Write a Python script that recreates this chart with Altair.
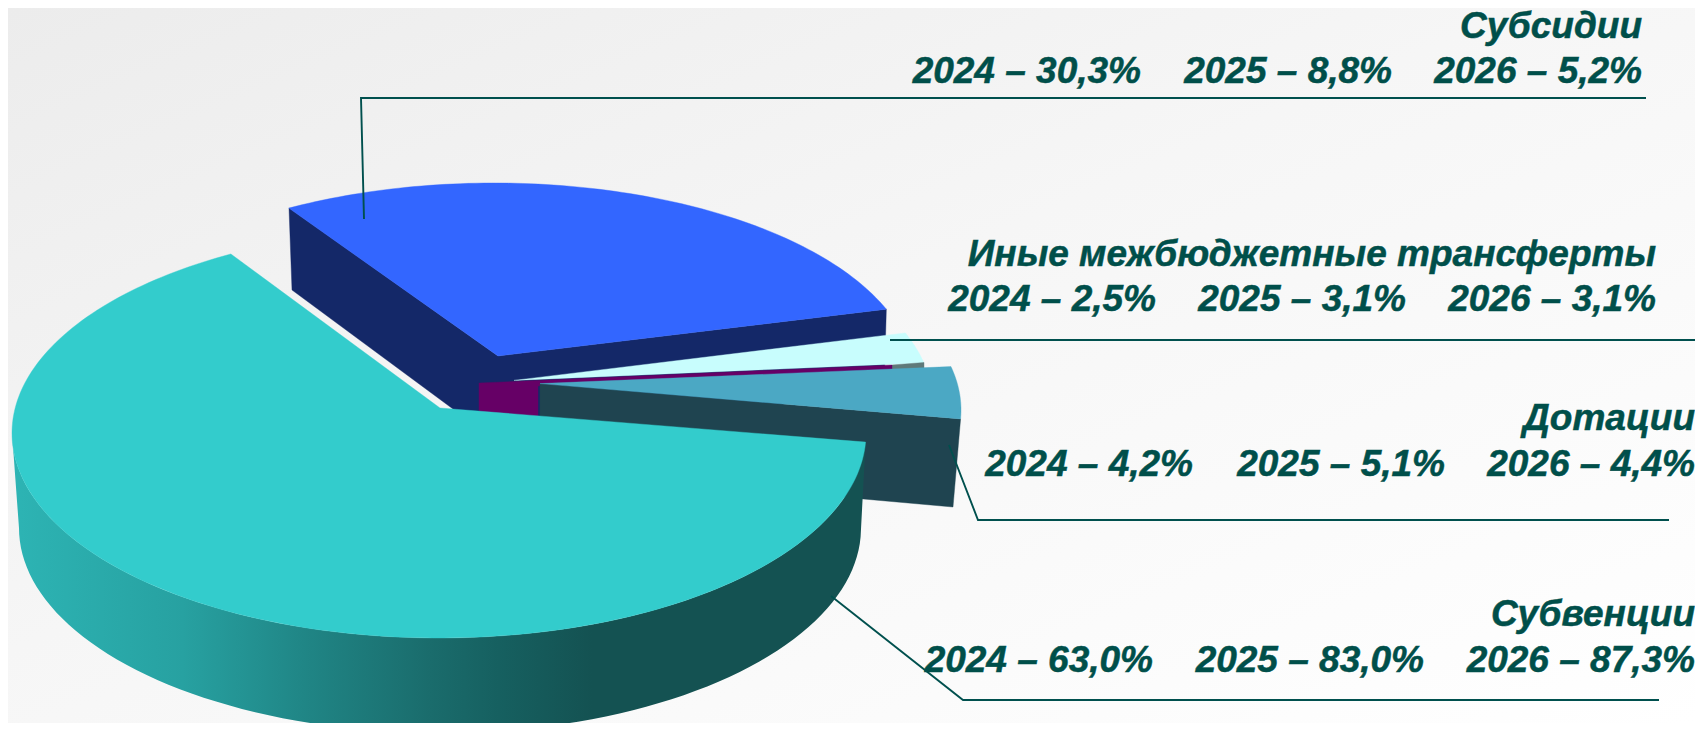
import math
import altair as alt
import pandas as pd

# ---- values ----
slices = ["Субвенции", "Дотации", "Иные межбюджетные трансферты", "Субсидии"]
share_2024 = [63.0, 4.2, 2.5, 30.3]
share_2025 = [83.0, 5.1, 3.1, 8.8]
share_2026 = [87.3, 4.4, 3.1, 5.2]

# label text: title, then one string per year
titles = ["Субвенции", "Дотации", "Иные межбюджетные трансферты", "Субсидии"]
years = ["2024", "2025", "2026"]
shares_txt = {
    "Субвенции": ["63,0%", "83,0%", "87,3%"],
    "Дотации": ["4,2%", "5,1%", "4,4%"],
    "Иные межбюджетные трансферты": ["2,5%", "3,1%", "3,1%"],
    "Субсидии": ["30,3%", "8,8%", "5,2%"],
}

# ---- pie projection ----
START = 123.1     # angle where the 2024 slices begin
E = 0.132         # perspective shift of the pie centre
ELL = {           # ellipse of each exploded slice: cx, cy, a, b
    "Субвенции": (439, 433, 427, 205),
    "Дотации": (540, 410, 421, 200),
    "Иные межбюджетные трансферты": (514, 407.6, 420, 206),
    "Субсидии": (494, 381, 421, 198),
}
TEAL_LOWER = (440, 528, 421, 205)
TEAL_APEX = (440, 408)
SUB_APEX = (498, 356)


def pt(ell, deg):
    cx, cy, a, b = ell
    t = math.radians(deg)
    X, Y = math.cos(t), math.sin(t)
    d = 1 + E * Y
    return cx + a * X * math.sqrt(1 - E * E) / d, cy - b * (Y + E) / d


def arc(ell, d0, d1, n=90):
    return [pt(ell, d0 + (d1 - d0) * i / n) for i in range(n + 1)]


def apex(ell):
    return ell[0], ell[1] - E * ell[3]


angles = {}
cur = START
for name, s in zip(slices, share_2024):
    angles[name] = (cur, cur + s * 3.6)
    cur += s * 3.6

W, H = 1687, 715
xs = alt.Scale(domain=[8, 8 + W], range=[0, W], nice=False, zero=False)
ys = alt.Scale(domain=[8, 8 + H], range=[0, H], nice=False, zero=False)


def poly(points, fill):
    pts = list(points) + [points[0]]
    df = pd.DataFrame({"x": [p[0] for p in pts], "y": [p[1] for p in pts], "i": range(len(pts))})
    stroke = fill if isinstance(fill, str) else None
    kw = {"stroke": stroke, "strokeWidth": 0.4} if stroke else {"strokeWidth": 0}
    return alt.Chart(df).mark_line(fill=fill, clip=True, **kw).encode(
        x=alt.X("x:Q", scale=xs, axis=None),
        y=alt.Y("y:Q", scale=ys, axis=None),
        order=alt.Order("i:Q"),
    )


def line(points, width=1.9):
    df = pd.DataFrame({"x": [p[0] for p in points], "y": [p[1] for p in points], "i": range(len(points))})
    return alt.Chart(df).mark_line(color="#00504e", strokeWidth=width, clip=True).encode(
        x=alt.X("x:Q", scale=xs, axis=None),
        y=alt.Y("y:Q", scale=ys, axis=None),
        order=alt.Order("i:Q"),
    )


TEAL, DOT, INY, SUB = slices
layers = []

# background
bg_df = pd.DataFrame({"x": [8], "x2": [8 + W], "y": [8], "y2": [8 + H]})
layers.append(
    alt.Chart(bg_df).mark_rect(
        fill=alt.Gradient(
            gradient="linear", x1=0, y1=0, x2=1, y2=1,
            stops=[alt.GradientStop(color="#ececec", offset=0),
                   alt.GradientStop(color="#f6f6f6", offset=0.45),
                   alt.GradientStop(color="#ffffff", offset=1)],
        )
    ).encode(
        x=alt.X("x:Q", scale=xs, axis=None), x2="x2:Q",
        y=alt.Y("y:Q", scale=ys, axis=None), y2="y2:Q",
    )
)

# Субсидии
e = ELL[SUB]
a0, a1 = angles[SUB]
layers.append(poly([(289, 208), (292, 290), (453, 409), (498, 438), (884, 392), pt(e, a0), SUB_APEX], "#142868"))
layers.append(poly([SUB_APEX] + arc(e, a0, a1), "#3366ff"))

# Иные
e = ELL[INY]
a0, a1 = angles[INY]
layers.append(poly([apex(e)] + arc(e, a0, a1), "#c8fdfd"))
layers.append(poly([(892, 365), (924, 362.5), (924, 368), (892, 370)], "#5f7a7a"))
layers.append(poly([(479, 383), (892, 365), (892, 370), (538, 386), (538, 420), (479, 416)], "#660066"))

# Дотации
e = ELL[DOT]
a0, a1 = angles[DOT]
ap = apex(e)
c0 = pt(e, a0)
layers.append(poly([ap, c0, (953, 507), (540, 470)], "#1f4450"))
layers.append(poly([ap] + arc(e, a0, a1), "#4ba8c4"))

# Субвенции
e = ELL[TEAL]
a0, a1 = angles[TEAL]
LEFT = 187.6
wall = arc(e, LEFT, a1) + arc(TEAL_LOWER, a1, LEFT)
wall_grad = alt.Gradient(
    gradient="linear", x1=0, y1=0, x2=1, y2=0,
    stops=[alt.GradientStop(color="#2db4b4", offset=0),
           alt.GradientStop(color="#27a1a1", offset=0.2),
           alt.GradientStop(color="#208686", offset=0.34),
           alt.GradientStop(color="#1a6c6c", offset=0.49),
           alt.GradientStop(color="#166060", offset=0.57),
           alt.GradientStop(color="#145252", offset=0.68),
           alt.GradientStop(color="#145252", offset=1)],
)
layers.append(poly(wall, wall_grad))
layers.append(poly([TEAL_APEX] + arc(e, a0, a1, 180), "#33cccc"))

# leader lines
layers.append(line([(364, 219), (361, 98), (1646, 98)]))
layers.append(line([(890, 340), (1703, 340)]))
layers.append(line([(949, 445), (978, 520), (1669, 520)]))
layers.append(line([(831, 596), (963, 700), (1659, 700)]))

# text
title_pos = {SUB: (1642, 38), INY: (1656, 266), DOT: (1695, 430), TEAL: (1695, 626)}
row_pos = {
    SUB: ([1141, 1392, 1642], 83),
    INY: ([1156, 1406, 1656], 311),
    DOT: ([1193, 1445, 1695], 476),
    TEAL: ([1153, 1424, 1695], 672),
}
rows = []
for name in titles:
    rows.append({"x": title_pos[name][0], "y": title_pos[name][1], "t": name})
    rights, base = row_pos[name]
    for yr, val, r in zip(years, shares_txt[name], rights):
        rows.append({"x": r, "y": base, "t": f"{yr} – {val}"})
layers.append(
    alt.Chart(pd.DataFrame(rows)).mark_text(
        align="right", baseline="alphabetic", font="Liberation Sans",
        fontStyle="italic", fontWeight="bold", fontSize=37, color="#004f4a",
        stroke="#004f4a", strokeWidth=0.5,
    ).encode(
        x=alt.X("x:Q", scale=xs, axis=None),
        y=alt.Y("y:Q", scale=ys, axis=None),
        text="t:N",
    )
)

chart = alt.layer(*layers).properties(
    width=W, height=H, padding=0, autosize=alt.AutoSizeParams(type="none"),
    background="#ffffff",
).configure_view(stroke=None)

chart.save("out.html", embed_options={"renderer": "svg", "actions": False})
